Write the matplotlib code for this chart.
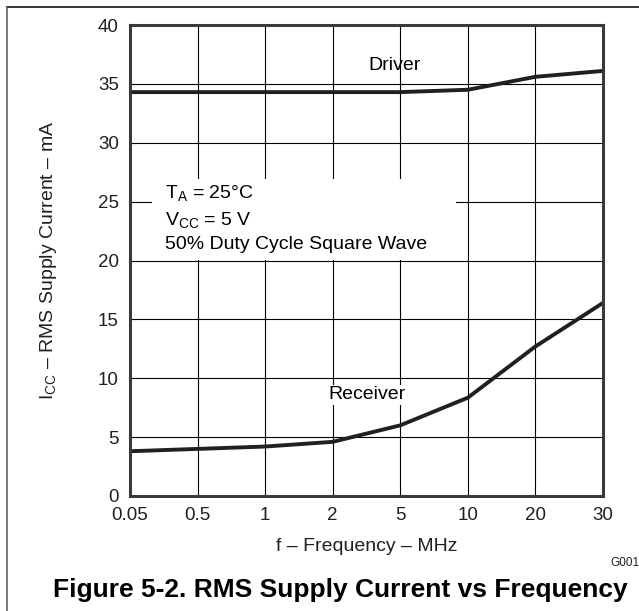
import numpy as np
import matplotlib
matplotlib.use('Agg')
import matplotlib.pyplot as plt
from matplotlib.patches import Rectangle

plt.rcParams['font.family'] = ['Liberation Sans', 'DejaVu Sans']
plt.rcParams['mathtext.fontset'] = 'custom'
plt.rcParams['mathtext.rm'] = 'Liberation Sans'

# Data (x axis is evenly spaced categories)
freq_labels = ['0.05', '0.5', '1', '2', '5', '10', '20', '30']
driver_ma = [34.3, 34.3, 34.3, 34.3, 34.3, 34.5, 35.6, 36.1]
receiver_ma = [3.8, 4.0, 4.2, 4.6, 6.0, 8.35, 12.7, 16.4]
y_ticks = [0, 5, 10, 15, 20, 25, 30, 35, 40]

W, H = 639, 611
fig = plt.figure(figsize=(W / 100, H / 100), dpi=100)
ax = fig.add_axes([130 / W, (H - 496) / H, (603 - 130) / W, (496 - 25) / H])

x = np.arange(len(freq_labels))
line_col = '#231f20'
fs = 14

# grid
ax.grid(True, color='black', linewidth=0.8, zorder=1)
ax.set_axisbelow(True)

# white box behind the conditions text
ax.add_patch(Rectangle((0.33, 20.05), 4.5, 6.85, facecolor='white',
                       edgecolor='none', zorder=2))
ax.text(0.52, 25.7, r'T$_\mathregular{A}$ = 25°C', fontsize=fs, va='center', zorder=3)
ax.text(0.52, 23.4, r'V$_\mathregular{CC}$ = 5 V', fontsize=fs, va='center', zorder=3)
ax.text(0.52, 21.4, '50% Duty Cycle Square Wave', fontsize=fs, va='center', zorder=3)

ax.plot(x, driver_ma, color=line_col, linewidth=2.8, zorder=5)
ax.plot(x, receiver_ma, color=line_col, linewidth=2.8, zorder=5)

ax.text(3.92, 36.6, 'Driver', fontsize=fs, ha='center', va='center', zorder=3)
ax.text(3.5, 8.6, 'Receiver', fontsize=fs, ha='center', va='center', zorder=3,
        bbox=dict(facecolor='white', edgecolor='none', pad=1))

ax.set_xlim(0, len(freq_labels) - 1)
ax.set_ylim(0, 40)
ax.set_xticks(x)
ax.set_xticklabels(freq_labels)
ax.set_yticks(y_ticks)
ax.tick_params(length=0, labelsize=13.5, pad=8, colors='#231f20')
for s in ax.spines.values():
    s.set_linewidth(2.2)
    s.set_color('#3a3a3a')
    s.set_zorder(6)

ax.set_xlabel('f – Frequency – MHz', fontsize=fs, labelpad=10, color='#231f20')
ax.set_ylabel(r'I$_\mathregular{CC}$ – RMS Supply Current – mA', fontsize=fs,
              labelpad=28, color='#231f20')

fig.text(625 / W, 1 - 563 / H, 'G001', fontsize=8.5, ha='center', va='center', color='#231f20')
fig.text(340 / W, 1 - 590 / H, 'Figure 5-2. RMS Supply Current vs Frequency',
         fontsize=19, fontweight='bold', ha='center', va='center', color='black')

# outer frame: top and left lines
fig.add_artist(plt.Line2D([7 / W, 1], [1 - 7 / H, 1 - 7 / H], color='black',
                          linewidth=1.1, transform=fig.transFigure))
fig.add_artist(plt.Line2D([7 / W, 7 / W], [0, 1 - 7 / H], color='#555555',
                          linewidth=1.1, transform=fig.transFigure))

fig.savefig('out.png', dpi=100)
